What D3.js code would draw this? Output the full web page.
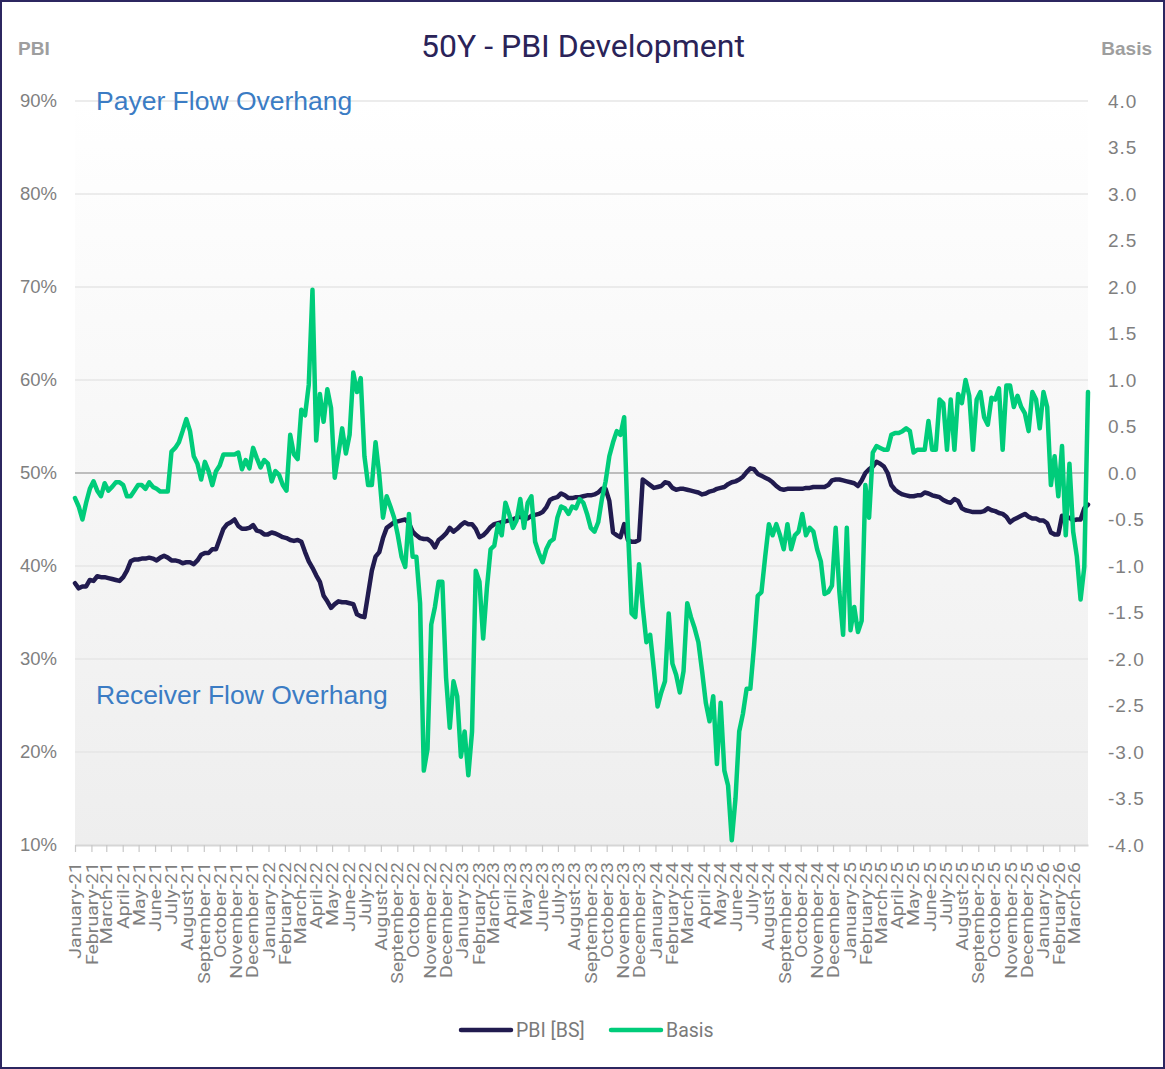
<!DOCTYPE html>
<html>
  <head>
    <title>50Y - PBI Development</title>
    <meta charset="utf-8">
    <style>
      body { margin: 0; background-color: #fff; }
      svg { display: block; }
      text { font-family: "Liberation Sans", Arial, sans-serif; }
      .xaxis text { font-family: Roboto, "Liberation Sans", sans-serif; }
    </style>
    <script src="https://cdn.jsdelivr.net/npm/d3@7"></script>
  </head>
  <body>
    <svg id="chart" width="1165" height="1069"></svg>
    <script>
      // weekly observations, first one on 1 Jan 2021
      var startDate = new Date(2021, 0, 1);

      // PBI [BS], in %
      var pbi = [
        38.15, 37.6, 37.8, 37.8, 38.5, 38.4, 38.9, 38.8, 38.8, 38.7, 38.6, 38.5, 38.4, 38.8, 39.5, 40.5,
        40.7, 40.7, 40.8, 40.8, 40.9, 40.8, 40.6, 40.9, 41.1, 40.9, 40.6, 40.6, 40.5, 40.3, 40.4, 40.4,
        40.2, 40.6, 41.2, 41.4, 41.4, 41.8, 41.8, 42.9, 44.0, 44.5, 44.7, 45.0, 44.3, 44.0, 44.0, 44.1,
        44.4, 43.8, 43.7, 43.4, 43.4, 43.6, 43.5, 43.3, 43.1, 43.0, 42.8, 42.7, 42.8, 42.6, 41.5, 40.5,
        39.8, 39.0, 38.3, 36.8, 36.2, 35.5, 35.9, 36.2, 36.1, 36.1, 36.0, 35.9, 34.8, 34.6, 34.5, 37.0,
        39.5, 41.0, 41.5, 43.0, 44.1, 44.4, 44.7, 44.8, 44.9, 45.0, 44.6, 43.7, 43.3, 43.0, 42.9, 42.9,
        42.6, 42.0, 42.8, 43.1, 43.5, 44.1, 43.7, 44.0, 44.4, 44.7, 44.5, 44.5, 44.0, 43.1, 43.3, 43.7,
        44.2, 44.5, 44.6, 44.7, 44.8, 44.9, 45.0, 45.2, 45.3, 45.1, 45.1, 45.4, 45.5, 45.6, 45.8, 46.3,
        47.1, 47.3, 47.4, 47.8, 47.6, 47.3, 47.3, 47.4, 47.4, 47.5, 47.6, 47.6, 47.7, 47.9, 48.3, 48.3,
        47.0, 43.6, 43.3, 43.1, 44.5, 42.8, 42.6, 42.6, 42.8, 49.3, 49.0, 48.7, 48.4, 48.5, 48.6, 49.0,
        48.9, 48.4, 48.2, 48.3, 48.3, 48.2, 48.1, 48.0, 47.9, 47.7, 47.8, 48.0, 48.1, 48.3, 48.4, 48.5,
        48.8, 49.0, 49.1, 49.3, 49.6, 50.1, 50.5, 50.4, 49.9, 49.7, 49.5, 49.3, 49.0, 48.6, 48.3, 48.2,
        48.3, 48.3, 48.3, 48.3, 48.3, 48.4, 48.4, 48.5, 48.5, 48.5, 48.5, 48.7, 49.2, 49.3, 49.3, 49.2,
        49.1, 49.0, 48.9, 48.6, 49.2, 50.0, 50.4, 50.7, 51.2, 51.0, 50.7, 50.0, 48.7, 48.2, 47.9, 47.7,
        47.6, 47.5, 47.5, 47.6, 47.6, 47.9, 47.8, 47.6, 47.5, 47.4, 47.1, 46.9, 46.8, 47.2, 47.0, 46.2,
        46.0, 45.9, 45.8, 45.8, 45.8, 45.9, 46.2, 46.0, 45.9, 45.7, 45.6, 45.3, 44.7, 45.0, 45.2, 45.4,
        45.6, 45.3, 45.1, 45.1, 44.9, 44.9, 44.6, 43.6, 43.4, 43.4, 45.4, 45.2, 45.2, 44.9, 45.0, 45.0,
        46.2, 46.6
      ];

      // Basis, right axis
      var basis = [
        -0.27, -0.36, -0.50, -0.32, -0.17, -0.09, -0.19, -0.25, -0.11, -0.19, -0.15, -0.10, -0.10, -0.13, -0.25, -0.25,
        -0.19, -0.13, -0.13, -0.17, -0.10, -0.15, -0.17, -0.20, -0.20, -0.20, 0.23, 0.27, 0.33, 0.45, 0.58, 0.45,
        0.18, 0.10, -0.07, 0.12, 0.02, -0.13, 0.02, 0.08, 0.20, 0.20, 0.20, 0.20, 0.22, 0.04, 0.14, 0.05,
        0.27, 0.16, 0.06, 0.14, 0.10, -0.09, 0.02, -0.02, -0.13, -0.19, 0.41, 0.20, 0.15, 0.68, 0.62, 0.95,
        1.97, 0.35, 0.85, 0.55, 0.90, 0.70, -0.05, 0.21, 0.48, 0.21, 0.41, 1.08, 0.87, 1.02, 0.18, -0.13,
        -0.13, 0.33, -0.02, -0.48, -0.25, -0.36, -0.48, -0.67, -0.90, -1.01, -0.44, -0.90, -0.90, -1.40, -3.20, -2.97,
        -1.63, -1.44, -1.17, -1.17, -2.20, -2.74, -2.24, -2.40, -3.05, -2.78, -3.25, -2.78, -1.05, -1.17, -1.78, -1.24,
        -0.82, -0.78, -0.55, -0.67, -0.32, -0.44, -0.59, -0.51, -0.28, -0.59, -0.32, -0.25, -0.74, -0.86, -0.96, -0.82,
        -0.74, -0.71, -0.48, -0.36, -0.38, -0.44, -0.36, -0.38, -0.28, -0.32, -0.44, -0.59, -0.63, -0.53, -0.28, -0.09,
        0.18, 0.33, 0.45, 0.41, 0.60, -0.59, -1.51, -1.55, -0.98, -1.44, -1.82, -1.74, -2.11, -2.51, -2.36, -2.24,
        -1.51, -2.05, -2.17, -2.36, -2.13, -1.40, -1.55, -1.67, -1.82, -2.13, -2.47, -2.67, -2.40, -3.13, -2.47, -3.20,
        -3.36, -3.95, -3.50, -2.78, -2.59, -2.32, -2.32, -1.86, -1.32, -1.28, -0.90, -0.55, -0.67, -0.55, -0.67, -0.82,
        -0.55, -0.82, -0.67, -0.63, -0.44, -0.67, -0.59, -0.63, -0.82, -0.95, -1.30, -1.28, -1.21, -0.59, -1.28, -1.74,
        -0.59, -1.69, -1.44, -1.71, -1.59, -0.13, -0.48, 0.22, 0.29, 0.27, 0.25, 0.25, 0.41, 0.43, 0.43, 0.45,
        0.48, 0.45, 0.22, 0.25, 0.25, 0.25, 0.56, 0.25, 0.25, 0.79, 0.75, 0.25, 0.79, 0.25, 0.85, 0.75,
        1.00, 0.83, 0.25, 0.79, 0.87, 0.60, 0.52, 0.81, 0.79, 0.91, 0.25, 0.94, 0.94, 0.71, 0.83, 0.71,
        0.64, 0.45, 0.87, 0.79, 0.48, 0.87, 0.71, -0.13, 0.18, -0.25, 0.29, -0.67, 0.10, -0.63, -0.90, -1.36,
        -1.01, 0.87
      ];

      var pctTicks = [10, 20, 30, 40, 50, 60, 70, 80, 90];
      var basisTicks = [-4, -3.5, -3, -2.5, -2, -1.5, -1, -0.5, 0, 0.5, 1, 1.5, 2, 2.5, 3, 3.5, 4];

      var dates = pbi.map(function (v, i) { return d3.timeDay.offset(startDate, 7 * i); });
      var lastDate = dates[dates.length - 1];
      var months = d3.timeMonth.range(startDate, d3.timeDay.offset(lastDate, 1));

      // plot box (note: "top" is taken by window.top)
      var plotL = 75, plotR = 1088, plotT = 101, plotB = 845;
      var svg = d3.select('#chart');

      var x = d3.scaleTime().domain([startDate, lastDate]).range([plotL, plotR]);
      var yL = d3.scaleLinear().domain([10, 90]).range([plotB, plotT]);
      var yR = d3.scaleLinear().domain([-4, 4]).range([plotB, plotT]);

      // background
      var grad = svg.append('defs').append('linearGradient')
        .attr('id', 'bg').attr('x1', 0).attr('y1', 0).attr('x2', 0).attr('y2', 1);
      grad.append('stop').attr('offset', '0%').attr('stop-color', '#ffffff');
      grad.append('stop').attr('offset', '100%').attr('stop-color', '#eeeeee');
      svg.append('rect').attr('x', plotL).attr('y', plotT)
        .attr('width', plotR - plotL).attr('height', plotB - plotT).attr('fill', 'url(#bg)');

      // gridlines
      svg.append('g').selectAll('line').data(pctTicks.filter(function (d) { return d !== 50 && d !== 10; }))
        .enter().append('line')
        .attr('x1', plotL).attr('x2', plotR)
        .attr('y1', function (d) { return yL(d); }).attr('y2', function (d) { return yL(d); })
        .attr('stroke', '#e6e6e6').attr('stroke-width', 1.5);

      // x axis
      var xAxis = svg.append('g').attr('class', 'xaxis')
        .attr('transform', 'translate(0,' + plotB + ')')
        .call(d3.axisBottom(x).tickValues(months).tickFormat(d3.timeFormat('%B-%y')).tickSize(7).tickSizeOuter(0));
      xAxis.select('.domain').attr('stroke', '#d6d6d6').attr('stroke-width', 2);
      xAxis.selectAll('.tick line').attr('stroke', '#c8c8c8').attr('stroke-width', 1.2);
      xAxis.selectAll('.tick text')
        .attr('x', -17).attr('y', 0).attr('dy', '0.36em')
        .attr('transform', 'scale(0.8,1) rotate(-90)')
        .style('text-anchor', 'end')
        .attr('fill', '#7f7f7f').style('font-size', '19.5px');

      // zero line
      svg.append('line').attr('x1', plotL).attr('x2', plotR)
        .attr('y1', yR(0)).attr('y2', yR(0))
        .attr('stroke', '#bdbdbd').attr('stroke-width', 2);

      // left axis
      var lAxis = svg.append('g').attr('transform', 'translate(' + plotL + ',0)')
        .call(d3.axisLeft(yL).tickValues(pctTicks).tickFormat(function (d) { return d + '%'; }).tickSize(0).tickPadding(18));
      lAxis.select('.domain').remove();
      lAxis.selectAll('text').attr('fill', '#7f7f7f').style('font-size', '18.5px')
        .style('font-family', '"Liberation Sans", Arial, sans-serif');

      // right axis
      var rAxis = svg.append('g').attr('transform', 'translate(' + plotR + ',0)')
        .call(d3.axisRight(yR).tickValues(basisTicks).tickFormat(function (d) { return d.toFixed(1); }).tickSize(0).tickPadding(20));
      rAxis.select('.domain').remove();
      rAxis.selectAll('text').attr('fill', '#7f7f7f').style('font-size', '19px').style('letter-spacing', '1px')
        .style('font-family', '"Liberation Sans", Arial, sans-serif');

      // series
      var pbiLine = d3.line().x(function (d, i) { return x(dates[i]); }).y(function (d) { return yL(d); });
      var basisLine = d3.line().x(function (d, i) { return x(dates[i]); }).y(function (d) { return yR(d); });

      svg.append('path').datum(pbi).attr('d', pbiLine)
        .attr('fill', 'none').attr('stroke', '#211b4f').attr('stroke-width', 4.5)
        .attr('stroke-linejoin', 'round').attr('stroke-linecap', 'round');
      svg.append('path').datum(basis).attr('d', basisLine)
        .attr('fill', 'none').attr('stroke', '#00cc7a').attr('stroke-width', 4.5)
        .attr('stroke-linejoin', 'round').attr('stroke-linecap', 'round');

      // texts
      svg.append('text').attr('x', 583).attr('y', 57).attr('text-anchor', 'middle')
        .style('font-family', 'Roboto, sans-serif').style('font-size', '32px').attr('fill', '#2a2358')
        .text('50Y - PBI Development');
      svg.append('text').attr('x', 18).attr('y', 55).style('font-weight', 'bold').style('font-size', '19px')
        .attr('fill', '#9e9e9e').text('PBI');
      svg.append('text').attr('x', 1152).attr('y', 55).attr('text-anchor', 'end').style('font-weight', 'bold')
        .style('font-size', '19px').attr('fill', '#9e9e9e').text('Basis');
      svg.append('text').attr('x', 96).attr('y', 110).style('font-size', '26.5px').attr('fill', '#3b7cc4')
        .text('Payer Flow Overhang');
      svg.append('text').attr('x', 96).attr('y', 704).style('font-size', '26.5px').attr('fill', '#3b7cc4')
        .text('Receiver Flow Overhang');

      // legend
      var legend = [
        { name: 'PBI [BS]', color: '#211b4f', x: 461 },
        { name: 'Basis', color: '#00cc7a', x: 611 }
      ];
      var lg = svg.append('g').selectAll('g').data(legend).enter().append('g')
        .attr('transform', function (d) { return 'translate(' + d.x + ',1030)'; });
      lg.append('line').attr('x1', 0).attr('x2', 50).attr('y1', 0).attr('y2', 0)
        .attr('stroke', function (d) { return d.color; }).attr('stroke-width', 4.5).attr('stroke-linecap', 'round');
      lg.append('text').attr('x', 55).attr('y', 7).style('font-family', 'Roboto, sans-serif')
        .style('font-size', '19.5px').attr('fill', '#7a7a7a').text(function (d) { return d.name; });

      // frame
      svg.append('rect').attr('x', 1).attr('y', 1).attr('width', 1163).attr('height', 1067)
        .attr('fill', 'none').attr('stroke', '#2c2660').attr('stroke-width', 2);
    </script>
  </body>
</html>
